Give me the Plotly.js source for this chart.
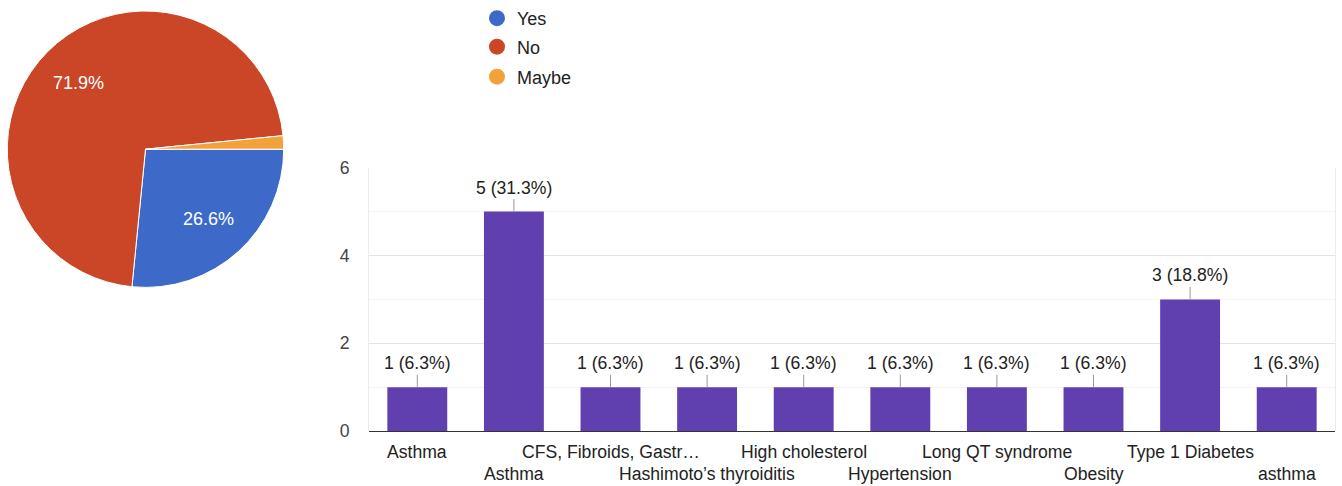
<!DOCTYPE html>
<html>
<head>
<meta charset="utf-8">
<script src="https://cdn.plot.ly/plotly-3.0.1.min.js"></script>
<style>
  html, body { margin: 0; padding: 0; background: #ffffff; }
  #chart { width: 1342px; height: 486px; }
</style>
</head>
<body>
<div id="chart"></div>
<script>
// Yes / No / Maybe answers
const answerLabels = ['Yes', 'No', 'Maybe'];
const answerCounts = [17, 46, 1];
const answerColors = ['#3d6ac8', '#cb4627', '#f3a13b'];

// Conditions reported
const conditionLabels = [
  'Asthma', 'Asthma', 'CFS, Fibroids, Gastr…', 'Hashimoto’s thyroiditis',
  'High cholesterol', 'Hypertension', 'Long QT syndrome', 'Obesity',
  'Type 1 Diabetes', 'asthma'
];
const conditionCounts = [1, 5, 1, 1, 1, 1, 1, 1, 3, 1];
const barColor = '#603fae';

const W = 1342, H = 486;
const FONT = 'Liberation Sans, Arial, Helvetica, sans-serif';
const TEXT_SIZE = 17.6;
const px = v => v / W;
const py = v => 1 - v / H;

const answerTotal = answerCounts.reduce((a, b) => a + b, 0);
const conditionTotal = conditionCounts.reduce((a, b) => a + b, 0);
const positions = conditionCounts.map((_, i) => i);

// pie geometry (pixels)
const pieCx = 145.5, pieCy = 148.5, pieR = 138.5;
const pieRotation = 90;

const pie = {
  type: 'pie',
  labels: answerLabels,
  values: answerCounts,
  sort: false,
  direction: 'clockwise',
  rotation: pieRotation,
  marker: { colors: answerColors, line: { color: '#ffffff', width: 1 } },
  textinfo: 'none',
  showlegend: false,
  hoverinfo: 'skip',
  domain: { x: [px(pieCx - pieR), px(pieCx + pieR)], y: [py(pieCy + pieR), py(pieCy - pieR)] }
};

const bars = {
  type: 'bar',
  x: positions,
  y: conditionCounts,
  marker: { color: barColor },
  showlegend: false,
  hoverinfo: 'skip'
};

// legend entries with round markers, one legend box per answer
const legendNames = ['legend', 'legend2', 'legend3'];
const legendRows = [18, 47, 77];
const legendTraces = answerLabels.map((name, i) => ({
  type: 'scatter',
  x: [null], y: [null],
  mode: 'markers',
  name: name,
  legend: legendNames[i],
  marker: { color: answerColors[i], size: 18, symbol: 'circle' },
  hoverinfo: 'skip'
}));

const annotations = [];

// percentage labels placed at each slice's mid-angle
let cumulative = 0;
answerCounts.forEach(c => {
  const share = c / answerTotal;
  const mid = cumulative + share / 2;
  cumulative += share;
  if (share < 0.05) return;
  const theta = (pieRotation + mid * 360) * Math.PI / 180;
  const r = pieR * 0.68;
  annotations.push({
    xref: 'paper', yref: 'paper',
    x: px(pieCx + r * Math.sin(theta)),
    y: py(pieCy - r * Math.cos(theta)),
    text: (share * 100).toFixed(1) + '%',
    showarrow: false, xanchor: 'center', yanchor: 'middle',
    font: { family: FONT, size: 18, color: '#ffffff' }
  });
});

conditionCounts.forEach((v, i) => {
  annotations.push({
    x: i, y: v, xref: 'x', yref: 'y',
    text: v + ' (' + (v / conditionTotal * 100).toFixed(1) + '%)',
    showarrow: true, arrowhead: 0, arrowwidth: 1, arrowcolor: '#9a9a9a',
    ax: 0, ay: -24, standoff: 0,
    font: { family: FONT, size: TEXT_SIZE, color: '#222222' }
  });
  annotations.push({
    x: i, y: 0, xref: 'x', yref: 'y',
    text: conditionLabels[i],
    showarrow: false,
    yanchor: 'middle',
    yshift: i % 2 === 0 ? -20.5 : -42.5,
    font: { family: FONT, size: TEXT_SIZE, color: '#222222' }
  });
});

const legendBase = {
  xref: 'paper', yref: 'paper',
  x: px(477), xanchor: 'left', yanchor: 'middle',
  bgcolor: 'rgba(0,0,0,0)',
  font: { family: FONT, size: 18, color: '#222222' }
};

const layout = {
  width: W, height: H,
  margin: { l: 0, r: 0, t: 0, b: 0 },
  paper_bgcolor: '#ffffff',
  plot_bgcolor: '#ffffff',
  font: { family: FONT, size: TEXT_SIZE, color: '#222222' },
  bargap: 0.38,
  xaxis: {
    domain: [px(369), px(1335)],
    range: [-0.5, 9.5],
    showticklabels: false, showgrid: false, zeroline: false, showline: false,
    fixedrange: true
  },
  yaxis: {
    domain: [py(431), py(167)],
    range: [0, 6],
    dtick: 2,
    showgrid: true, gridcolor: '#e4e4e4', gridwidth: 1,
    minor: { dtick: 1, showgrid: true, gridcolor: '#f3f3f3', gridwidth: 1 },
    zeroline: true, zerolinecolor: '#333333', zerolinewidth: 1,
    showline: true, mirror: true, linecolor: '#ececec', linewidth: 1,
    ticks: 'outside', ticklen: 15, tickcolor: 'rgba(0,0,0,0)',
    tickfont: { family: FONT, size: TEXT_SIZE, color: '#444444' },
    fixedrange: true
  },
  legend: Object.assign({}, legendBase, { y: py(legendRows[0]) }),
  legend2: Object.assign({}, legendBase, { y: py(legendRows[1]) }),
  legend3: Object.assign({}, legendBase, { y: py(legendRows[2]) }),
  annotations: annotations
};

Plotly.newPlot('chart', [pie, bars].concat(legendTraces), layout, { displayModeBar: false, staticPlot: true });
</script>
</body>
</html>
